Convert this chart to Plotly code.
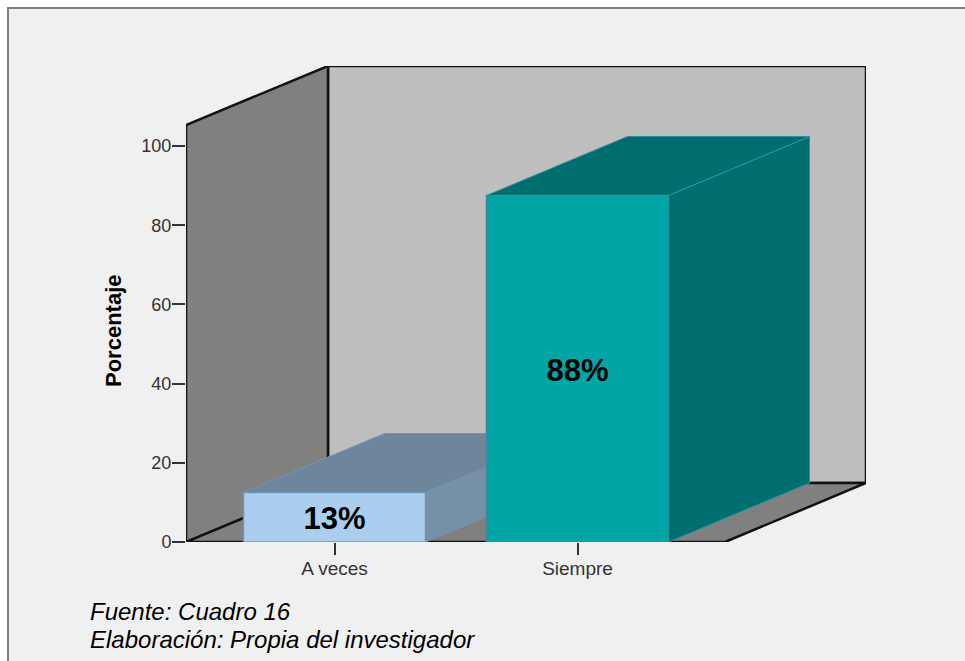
import plotly.graph_objects as go

categories = ["A veces", "Siempre"]
values = [12.5, 87.5]
labels = ["13%", "88%"]
y_ticks = [0, 20, 40, 60, 80, 100]
y_title = "Porcentaje"
notes = ["Fuente: Cuadro 16", "Elaboración: Propia del investigador"]

W, H = 965, 661
L, R, T, B = 186, 866, 66, 542
PX_X = 243.0          # pixels per category step
PX_Y = 3.96           # pixels per percent
X0 = 334.5            # pixel of first category
BAR_W = 182 / PX_X
DX = 142 / PX_X       # depth offset, x units
DY = 59 / PX_Y        # depth offset, y units
BAR_DX = 141 / PX_X
xmin = (L - X0) / PX_X
xmax = (R - X0) / PX_X
ymax = (B - T) / PX_Y
xfront = (725 - X0) / PX_X
wall_top = (B - 125) / PX_Y
LABEL_DROP = 4 / PX_Y

WALL_BACK, WALL_SIDE, FLOOR = "#BEBEBE", "#808080", "#808080"
BAR_STYLES = [
    dict(front="#ABCEEE", top="#6F859C", side="#7690A8", edge="#6E96B8"),
    dict(front="#00A5A5", top="#006E6E", side="#006E6E", edge="#2F8FA0"),
]
INK = "#111111"

fig = go.Figure()

def poly(xs, ys, fill, line, width=1.0):
    fig.add_trace(go.Scatter(
        x=xs + xs[:1], y=ys + ys[:1], mode="lines", fill="toself",
        fillcolor=fill, line=dict(color=line, width=width),
        hoverinfo="skip", showlegend=False, cliponaxis=False))

# Walls and floor
poly([xmin + DX, xmax, xmax, xmin + DX], [DY, DY, ymax, ymax], WALL_BACK, INK, 2.5)
poly([xmin, xmin + DX, xmin + DX, xmin], [0, DY, ymax, wall_top], WALL_SIDE, INK, 2.5)
poly([xmin, xfront, xmax, xmin + DX], [0, 0, DY, DY], FLOOR, INK, 2.5)

# Bars
for i, v in enumerate(values):
    st = BAR_STYLES[i]
    a, b = i - BAR_W / 2, i + BAR_W / 2
    poly([b, b + BAR_DX, b + BAR_DX, b], [0, DY, v + DY, v], st["side"], st["edge"])
    poly([a, b, b + BAR_DX, a + BAR_DX], [v, v, v + DY, v + DY], st["top"], st["edge"])
    poly([a, b, b, a], [0, 0, v, v], st["front"], st["edge"], 1.5)

# Value labels
fig.add_trace(go.Scatter(
    x=list(range(len(categories))), y=[v / 2 - LABEL_DROP for v in values], mode="text",
    text=labels, textposition="middle center",
    textfont=dict(family="Liberation Sans", size=31, color="#000000"),
    texttemplate="<b>%{text}</b>", hoverinfo="skip", showlegend=False))

def px(xp):
    return (xp - L) / (R - L)

def py(yp):
    return (B - yp) / (B - T)

shapes = [dict(type="rect", xref="paper", yref="paper", layer="below",
               x0=px(8), x1=px(W + 10), y0=py(H + 10), y1=py(8),
               fillcolor="#F0F0F0", line=dict(color="#7F7F7F", width=2))]

annotations = [
    dict(text=f"<i>{notes[0]}</i>", xref="paper", yref="paper", x=px(88), y=py(611),
         xanchor="left", yanchor="middle", showarrow=False,
         font=dict(family="Liberation Sans", size=24, color="#000000")),
    dict(text=f"<i>{notes[1]}</i>", xref="paper", yref="paper", x=px(88), y=py(639),
         xanchor="left", yanchor="middle", showarrow=False,
         font=dict(family="Liberation Sans", size=24, color="#000000")),
    dict(text=f"<b>{y_title}</b>", xref="paper", yref="paper", x=px(113), y=py(331),
         xanchor="center", yanchor="middle", textangle=-90, showarrow=False,
         font=dict(family="Liberation Sans", size=22, color="#000000")),
]

fig.update_layout(
    width=W, height=H, autosize=False,
    margin=dict(l=L, r=W - R, t=T, b=H - B, pad=0),
    paper_bgcolor="#FFFFFF", plot_bgcolor="rgba(0,0,0,0)",
    showlegend=False, shapes=shapes, annotations=annotations,
    xaxis=dict(range=[xmin, xmax], tickmode="array", tickvals=[0, 1], ticktext=categories,
               ticks="outside", ticklen=12, tickwidth=2, tickcolor="#333333", ticklabelstandoff=-3,
               tickfont=dict(family="Liberation Sans", size=19, color="#333333"),
               showgrid=False, zeroline=False, showline=False),
    yaxis=dict(range=[0, ymax], tickmode="array", tickvals=y_ticks,
               ticks="outside", ticklen=13, tickwidth=2, tickcolor="#333333", ticklabelstandoff=-3,
               tickfont=dict(family="Liberation Sans", size=18, color="#333333"),
               showgrid=False, zeroline=False, showline=False),
)

fig.write_html("out.html", config=dict(displayModeBar=False),
               post_script="document.body.style.margin='0';")
